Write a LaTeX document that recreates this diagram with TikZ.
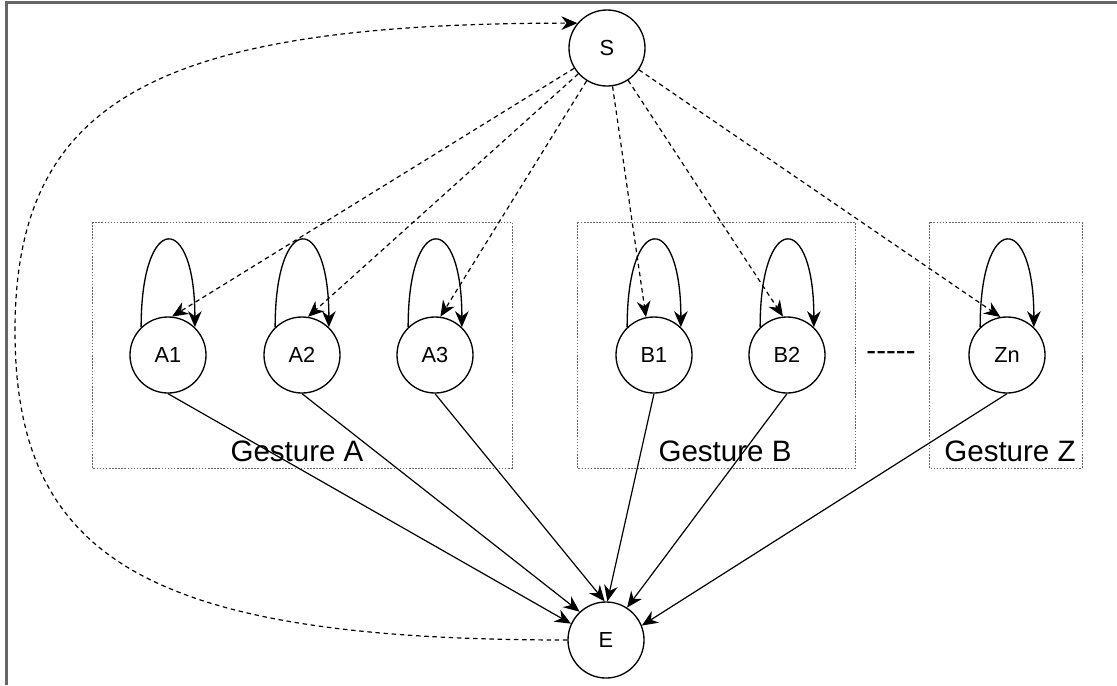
\documentclass[tikz,border=0pt]{standalone}
\usepackage{fontspec}
\setmainfont{Liberation Sans}
\usetikzlibrary{arrows.meta}

\begin{document}
\begin{tikzpicture}[x=0.025cm, y=0.025cm,
  hmmstate/.style={circle, draw=black, line width=0.95pt, minimum size=1.9cm,
    inner sep=0pt, font=\fontsize{15.5}{18}\selectfont},
  endedge/.style={-{Stealth[length=4mm,width=3.4mm]}, line width=0.85pt, draw=black},
  startedge/.style={endedge, dash pattern=on 3.2pt off 2.6pt},
  loopedge/.style={endedge, line width=0.95pt},
  gesturebox/.style={draw=black!60, line width=0.55pt, dash pattern=on 1.1pt off 1.1pt},
  gesturelabel/.style={font=\fontsize{21}{25}\selectfont, inner sep=0pt},
%  frame/.style={draw=black!55}
  ]
  \useasboundingbox (0,0) rectangle (1117,-685);
  \draw[draw=black!60, line width=1.6pt] (6.5,-685) -- (6.5,-2.5) -- (1117,-2.5);

  % gesture groups
  \draw[gesturebox] (92,-222) rectangle (512,-468);
  \draw[gesturebox] (577,-222) rectangle (855,-468);
  \draw[gesturebox] (929,-222) rectangle (1082,-468);
  \node[gesturelabel] (labA) at (297,-451) {Gesture A};
  \node[gesturelabel] (labB) at (725,-451) {Gesture B};
  \node[gesturelabel] (labZ) at (1010,-451) {Gesture Z};

  % states
  \node[hmmstate] (S) at (607,-48) {S};
  \node[hmmstate] (E) at (606,-640) {E};
  \node[hmmstate] (A1) at (168,-355) {A1};
  \node[hmmstate] (A2) at (302,-355) {A2};
  \node[hmmstate] (A3) at (435,-355) {A3};
  \node[hmmstate] (B1) at (654,-355) {B1};
  \node[hmmstate] (B2) at (787,-355) {B2};
  \node[hmmstate] (Zn) at (1007,-355) {Zn};
  \node[font=\fontsize{21}{25}\selectfont, inner sep=0pt] (gap) at (891,-356) {-{}-{}-{}-{}-};

  \foreach \s in {A1,A2,A3,B1,B2,Zn}
    \draw[loopedge] (\s.134) .. controls +(0,116) and +(0,116) .. (\s.46);

  \foreach \s/\a in {A1/84,A2/81,A3/82,B1/102,B2/96,Zn/100}
    \draw[startedge] (S) -- (\s.\a);

  \foreach \s/\a in {A1/155,A2/133,A3/92,B1/88,B2/57,Zn/22}
    \draw[endedge] (\s.south) -- (E.\a);

  \draw[startedge] (E.west) .. controls (153,-640) and (15,-562) .. (15,-331)
    .. controls (15,-100) and (156,-23) .. (S.140);
\end{tikzpicture}
\end{document}
